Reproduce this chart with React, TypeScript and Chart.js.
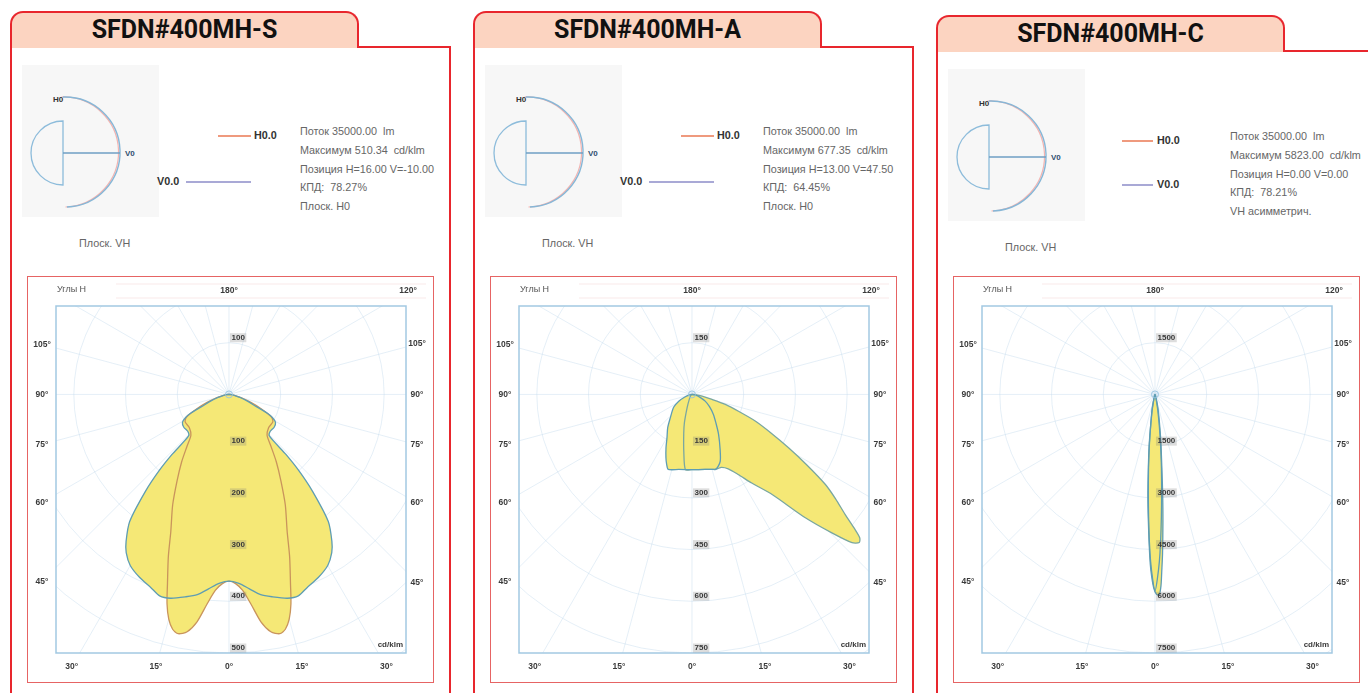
import React, { useEffect, useRef } from "react";
import { Chart, registerables } from "chart.js";
Chart.register(...registerables);

// ---------- data (angle from nadir in degrees, intensity in cd/klm) ----------
const S_RING = 100;
const S_WIDE_ANGLES = [0, 3, 6, 9, 12, 16, 19, 22, 26, 30, 33, 35, 38, 40.8, 42.5, 43.5, 44.2, 48, 54, 59, 62, 64, 66, 70, 75, 80, 85, 90];
const S_WIDE_VALUES = [361, 366, 378, 392, 400, 410, 412, 403, 394, 382, 365, 347, 312, 247, 200, 160, 112, 107, 108, 105, 95, 82, 58, 38, 22, 12, 5, 0];
const S_NARROW_ANGLES = [0, 2, 4, 6, 8, 10, 12, 13.5, 15, 16.5, 18, 20.5, 23, 27, 31, 35, 39, 43, 50, 58, 62, 66, 70, 75, 80, 85, 90];
const S_NARROW_VALUES = [361, 366, 380, 408, 444, 466, 473, 467, 450, 422, 385, 335, 288, 240, 195, 160, 129, 108, 100, 100, 93, 68, 45, 25, 12, 5, 0];

const A_RING = 150;
const A_BULB_ANGLES = [-90, -80, -70, -63, -55, -43, -36, -30, -26, -22.3, -20, -17.6, -10, 0, 10, 15, 17.5, 20, 23, 27, 33.7, 40, 47, 55, 63, 70, 80, 90];
const A_BULB_VALUES = [0, 8, 22, 43, 65, 92, 120, 145, 172, 199, 215, 228, 221, 218, 221, 225, 228, 222, 210, 180, 139, 108, 85, 62, 43, 25, 9, 0];
const A_LOBE_ANGLES = [-90, -60, -45, -30, -20, -15, -12, -8, -5, 0, 10, 18, 22, 26, 30, 34, 38.7, 42.6, 45.3, 47.2, 48.5, 49.5, 50.5, 51.9, 54, 56, 58.5, 61.1, 64, 67.2, 70, 73.3, 76, 80, 85, 90];
const A_LOBE_VALUES = [0, 3, 6, 15, 42, 85, 115, 170, 219, 218, 221, 228, 228, 240, 268, 310, 372, 486, 571, 633, 648, 640, 610, 565, 515, 467, 390, 320, 255, 199, 145, 101, 60, 30, 10, 0];

const C_RING = 1500;
const C_H_ANGLES = [-90, -40, -25, -15, -11, -8.5, -6.5, -5, -4, -3, -1.9, -1.3, -0.4, 0.4, 1.2, 1.8, 2.2, 2.7, 3.6, 4.4, 5.2, 7, 9.2, 12, 16, 25, 40, 90];
const C_H_VALUES = [0, 8, 25, 120, 450, 784, 1500, 2234, 2950, 3676, 4643, 5126, 5600, 5790, 5823, 5550, 5126, 4643, 3676, 2900, 2234, 1400, 784, 420, 150, 30, 8, 0];
const C_V_ANGLES = [-90, -20, -10, -7, -5, -3, -1.5, 0, 1.5, 3, 5, 7, 10, 20, 90];
const C_V_VALUES = [0, 40, 480, 1200, 2150, 3550, 4850, 5700, 4850, 3550, 2150, 1200, 480, 40, 0];

const RING_LABEL_STEPS_DOWN = [1, 2, 3, 4, 5];
const RING_LABEL_STEPS_UP = [1];
const SIDE_ANGLE_TICKS = [45, 60, 75, 90, 105];
const BOTTOM_ANGLE_TICKS = [-30, -15, 0, 15, 30];
const TOP_ANGLE_TICKS = [180, 120];

const TITLES = ["SFDN#400MH-S", "SFDN#400MH-A", "SFDN#400MH-C"];
const INFO_S = ["Поток 35000.00  lm", "Максимум 510.34  cd/klm", "Позиция H=16.00 V=-10.00", "КПД:  78.27%", "Плоск. H0"];
const INFO_A = ["Поток 35000.00  lm", "Максимум 677.35  cd/klm", "Позиция H=13.00 V=47.50", "КПД:  64.45%", "Плоск. H0"];
const INFO_C = ["Поток 35000.00  lm", "Максимум 5823.00  cd/klm", "Позиция H=0.00 V=0.00", "КПД:  78.21%", "VH асимметрич."];

// ---------- styles ----------
const RED = "#e8262d";
const PEACH = "#fcd4c1";
const FILL = "rgba(245,232,118,1)";
const TEAL = "#5e9db3";
const TAN = "#c9945c";
const GRID = "rgba(190,215,236,0.5)";
const FONT = '"Liberation Sans", Arial, sans-serif';

type Curve = { angles: number[]; values: number[]; mirror: boolean; color: string };

function toPoints(angles: number[], values: number[], mirror: boolean) {
  const a: number[] = [];
  const v: number[] = [];
  if (mirror) {
    for (let i = angles.length - 1; i > 0; i--) { a.push(-angles[i]); v.push(values[i]); }
  }
  for (let i = 0; i < angles.length; i++) { a.push(angles[i]); v.push(values[i]); }
  return a.map((g, i) => {
    const r = (g * Math.PI) / 180;
    return { x: v[i] * Math.sin(r), y: -v[i] * Math.cos(r) };
  });
}

function polarPlugin(ring: number) {
  const geo = (chart: any) => {
    const { scales } = chart;
    const cx = scales.x.getPixelForValue(0);
    const cy = scales.y.getPixelForValue(0);
    const rp = scales.y.getPixelForValue(-ring) - cy;
    return { cx, cy, rp };
  };
  return {
    id: "polarGrid",
    beforeDatasetsDraw(chart: any) {
      const { ctx, chartArea: ca } = chart;
      const { cx, cy, rp } = geo(chart);
      ctx.save();
      ctx.strokeStyle = "rgba(240,200,200,0.5)";
      ctx.lineWidth = 0.8;
      [ca.top - 22, ca.top - 8].forEach((yy) => {
        ctx.beginPath(); ctx.moveTo(ca.left + 60, yy); ctx.lineTo(ca.right + 20, yy); ctx.stroke();
      });
      ctx.beginPath();
      ctx.rect(ca.left, ca.top, ca.right - ca.left, ca.bottom - ca.top);
      ctx.clip();
      ctx.strokeStyle = GRID;
      ctx.lineWidth = 0.8;
      for (let k = 1; k <= 8; k++) {
        ctx.beginPath();
        ctx.arc(cx, cy, k * rp, 0, Math.PI * 2);
        ctx.stroke();
      }
      for (let g = 0; g < 360; g += 15) {
        const r = (g * Math.PI) / 180;
        ctx.beginPath();
        ctx.moveTo(cx, cy);
        ctx.lineTo(cx + 1000 * Math.sin(r), cy + 1000 * Math.cos(r));
        ctx.stroke();
      }
      ctx.restore();
    },
    afterDatasetsDraw(chart: any) {
      const { ctx, chartArea: ca } = chart;
      const { cx, cy, rp } = geo(chart);
      ctx.save();
      ctx.strokeStyle = "#a3c9e2";
      ctx.lineWidth = 1.5;
      ctx.strokeRect(ca.left, ca.top, ca.right - ca.left, ca.bottom - ca.top);
      ctx.strokeStyle = "rgba(150,195,225,0.9)";
      ctx.lineWidth = 1;
      ctx.beginPath();
      ctx.arc(cx, cy, 3.5, 0, Math.PI * 2);
      ctx.stroke();
      // ring labels
      ctx.font = `bold 8px ${FONT}`;
      ctx.textBaseline = "middle";
      ctx.textAlign = "left";
      const ringLabel = (k: number, dir: number) => {
        const t = String(k * ring);
        const y = cy + dir * k * rp - 5;
        const w = ctx.measureText(t).width;
        ctx.fillStyle = "rgba(120,120,120,0.25)";
        ctx.fillRect(cx + 1, y - 4.5, w + 3, 9);
        ctx.fillStyle = "#3a3a3a";
        ctx.fillText(t, cx + 2.5, y);
      };
      RING_LABEL_STEPS_DOWN.forEach((k) => ringLabel(k, 1));
      RING_LABEL_STEPS_UP.forEach((k) => ringLabel(k, -1));
      // angle labels
      ctx.font = `bold 8.5px ${FONT}`;
      ctx.fillStyle = "#3a3a3a";
      ctx.textAlign = "center";
      const leftX = ca.left - 14;
      const rightX = ca.right + 11;
      const topY = ca.top - 15;
      const botY = ca.bottom + 14;
      SIDE_ANGLE_TICKS.forEach((g) => {
        const r = (g * Math.PI) / 180;
        const yl = cy + ((cx - leftX) / Math.sin(r)) * Math.cos(r);
        const yr = cy + ((rightX - cx) / Math.sin(r)) * Math.cos(r);
        ctx.fillText(`${g}°`, leftX, yl);
        ctx.fillText(`${g}°`, rightX, yr);
      });
      BOTTOM_ANGLE_TICKS.forEach((g) => {
        const r = (g * Math.PI) / 180;
        const x = cx + ((botY - cy) / Math.cos(r)) * Math.sin(r);
        ctx.fillText(`${Math.abs(g)}°`, x, botY);
      });
      TOP_ANGLE_TICKS.forEach((g) => {
        const r = (g * Math.PI) / 180;
        const x = cx + ((topY - cy) / Math.cos(r)) * Math.sin(r);
        ctx.fillText(`${g}°`, x, topY);
      });
      ctx.fillStyle = "#ffffff";
      ctx.fillRect(ca.left - 22, ca.top - 28, 80, 22);
      ctx.fillStyle = "#555";
      ctx.font = `9px ${FONT}`;
      ctx.textAlign = "left";
      ctx.fillText("Углы H", ca.left + 1, ca.top - 16);
      ctx.font = `bold 8px ${FONT}`;
      ctx.textAlign = "right";
      ctx.fillStyle = "#3a3a3a";
      ctx.fillText("cd/klm", ca.right - 3, ca.bottom - 8);
      ctx.restore();
    },
  };
}

function PolarChart({ left, ring, curves }: { left: number; ring: number; curves: Curve[] }) {
  const ref = useRef<HTMLCanvasElement>(null);
  useEffect(() => {
    if (!ref.current) return;
    const datasets: any[] = [];
    curves.forEach((c) => {
      const pts = toPoints(c.angles, c.values, c.mirror);
      datasets.push({
        data: pts, showLine: true, fill: false, borderColor: c.color, borderWidth: 1.3,
        pointRadius: 0, tension: 0.25, order: 0,
      });
      datasets.push({
        data: pts, showLine: true, fill: "shape", backgroundColor: FILL, borderWidth: 0,
        borderColor: "rgba(0,0,0,0)", pointRadius: 0, tension: 0.25, order: 1,
      });
    });
    const chart = new Chart(ref.current, {
      type: "scatter",
      data: { datasets },
      options: {
        animation: false,
        responsive: false,
        events: [],
        layout: { padding: { left: 28, top: 29, right: 27, bottom: 29 } },
        scales: {
          x: { type: "linear", min: -3.346 * ring, max: 3.424 * ring, display: false },
          y: { type: "linear", min: -5 * ring, max: 1.71 * ring, display: false },
        },
        plugins: { legend: { display: false }, tooltip: { enabled: false } },
      } as any,
      plugins: [polarPlugin(ring) as any],
    });
    return () => chart.destroy();
  }, []);
  return (
    <div style={{ position: "absolute", left, top: 276, width: 407, height: 407, boxSizing: "border-box", border: "1px solid #e66464", background: "#fff" }}>
      <canvas ref={ref} width={405} height={405} style={{ display: "block", width: 405, height: 405 }} />
    </div>
  );
}

function Diagram({ x, y }: { x: number; y: number }) {
  return (
    <svg style={{ position: "absolute", left: x, top: y }} width={137} height={152}>
      <rect x={0} y={0} width={137} height={152} fill="#f7f7f7" />
      <path d="M 41 32 A 55 55 0 0 1 45 142" fill="none" stroke="#f2b3b0" strokeWidth={1.2} transform="translate(-1.5,0)" />
      <path d="M 41 32 A 55 55 0 0 1 45 142" fill="none" stroke="#86b7d7" strokeWidth={1.4} />
      <path d="M 41 56 A 32 32 0 0 0 41 120 Z" fill="none" stroke="#8dbcdb" strokeWidth={1.3} />
      <line x1={41} y1={88} x2={98} y2={88} stroke="#6f9fc4" strokeWidth={1.4} />
      <text x={31} y={37} fontSize={8} fontWeight="bold" fill="#333" fontFamily={FONT}>H0</text>
      <text x={103} y={91} fontSize={8} fontWeight="bold" fill="#2f4f6f" fontFamily={FONT}>V0</text>
    </svg>
  );
}

type PanelDef = {
  title: string; dx: number; dy: number; info: string[]; infoX: number;
  frameLeft: number; ring: number; curves: Curve[]; legend: "a" | "b";
};

const PANELS: PanelDef[] = [
  {
    title: TITLES[0], dx: 0, dy: 0, info: INFO_S, infoX: 300, frameLeft: 27, ring: S_RING, legend: "a",
    curves: [
      { angles: S_WIDE_ANGLES, values: S_WIDE_VALUES, mirror: true, color: TEAL },
      { angles: S_NARROW_ANGLES, values: S_NARROW_VALUES, mirror: true, color: TAN },
    ],
  },
  {
    title: TITLES[1], dx: 463, dy: 0, info: INFO_A, infoX: 300, frameLeft: 490, ring: A_RING, legend: "a",
    curves: [
      { angles: A_BULB_ANGLES, values: A_BULB_VALUES, mirror: false, color: TEAL },
      { angles: A_LOBE_ANGLES, values: A_LOBE_VALUES, mirror: false, color: "#7aa7a0" },
    ],
  },
  {
    title: TITLES[2], dx: 926, dy: 4, info: INFO_C, infoX: 304, frameLeft: 953, ring: C_RING, legend: "b",
    curves: [
      { angles: C_H_ANGLES, values: C_H_VALUES, mirror: false, color: TEAL },
      { angles: C_V_ANGLES, values: C_V_VALUES, mirror: false, color: TEAL },
    ],
  },
];

const txt = (x: number, y: number, s: string, extra: any = {}) => (
  <div style={{ position: "absolute", left: x, top: y - 7, height: 14, lineHeight: "14px", fontSize: 10.8, color: "#666", whiteSpace: "pre", fontFamily: FONT, ...extra }}>{s}</div>
);

function Panel({ p }: { p: PanelDef }) {
  const { dx, dy } = p;
  const hY = p.legend === "a" ? 135 : 140;
  const vY = p.legend === "a" ? 181 : 184;
  return (
    <>
      <div style={{ position: "absolute", left: dx + 10, top: 46 + dy, width: 441, height: 700, boxSizing: "border-box", border: `2px solid ${RED}` }} />
      <div style={{
        position: "absolute", left: dx + 10, top: 11 + dy, width: 349, height: 37, boxSizing: "border-box",
        border: `2px solid ${RED}`, borderBottom: "none", borderRadius: "13px 13px 0 0", background: PEACH,
        display: "flex", alignItems: "center", justifyContent: "center", paddingBottom: 2,
        fontFamily: "Roboto, 'Open Sans', sans-serif", fontWeight: 700, fontSize: 25, color: "#111",
      }}>{p.title}</div>
      <Diagram x={dx + 22} y={65 + dy} />
      {p.legend === "a" ? (
        <>
          <div style={{ position: "absolute", left: dx + 218, top: hY, width: 33, height: 1.5, background: "#ef9a7e" }} />
          {txt(dx + 254, hY, "H0.0", { fontWeight: "bold", color: "#333" })}
          {txt(dx + 157, vY, "V0.0", { fontWeight: "bold", color: "#333" })}
          <div style={{ position: "absolute", left: dx + 186, top: vY, width: 65, height: 1.5, background: "#a9a9d6" }} />
        </>
      ) : (
        <>
          <div style={{ position: "absolute", left: dx + 196, top: hY, width: 31, height: 1.5, background: "#ef9a7e" }} />
          {txt(dx + 231, hY, "H0.0", { fontWeight: "bold", color: "#333" })}
          <div style={{ position: "absolute", left: dx + 196, top: vY, width: 31, height: 1.5, background: "#a9a9d6" }} />
          {txt(dx + 231, vY, "V0.0", { fontWeight: "bold", color: "#333" })}
        </>
      )}
      {p.info.map((s, i) => <React.Fragment key={i}>{txt(dx + p.infoX, 131 + dy + (p.legend === "b" ? 1 : 0) + i * 18.8, s)}</React.Fragment>)}
      {txt(dx + 79, 243 + dy, "Плоск. VH")}
      <PolarChart left={p.frameLeft} ring={p.ring} curves={p.curves} />
    </>
  );
}

export default function App() {
  return (
    <div style={{ position: "absolute", left: 0, top: 0, width: 1368, height: 693, overflow: "hidden", background: "#fff", fontFamily: FONT }}>
      {PANELS.map((p, i) => <Panel key={i} p={p} />)}
    </div>
  );
}
